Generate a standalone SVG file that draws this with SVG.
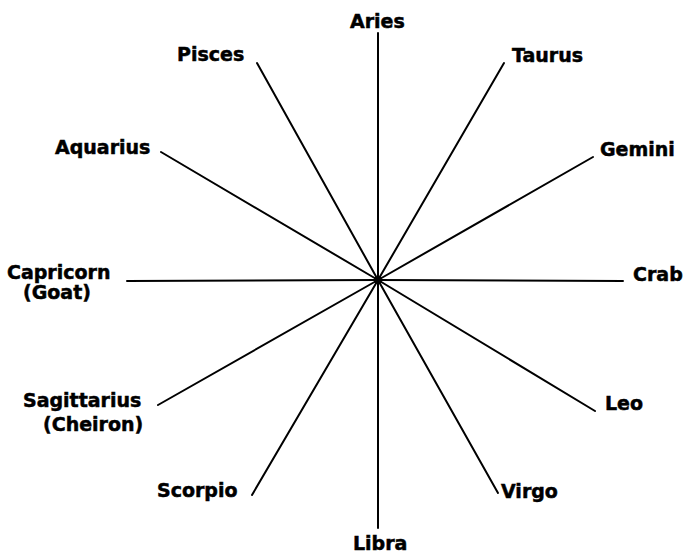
<svg xmlns="http://www.w3.org/2000/svg" width="688" height="553" viewBox="0 0 688 553">
<style>
.l{stroke:#000;stroke-width:2;stroke-linecap:round;fill:none}
text{font-family:"DejaVu Sans","Liberation Sans",sans-serif;font-weight:bold;font-size:19px;fill:#000;stroke:#000;stroke-width:0.5}
</style>
<rect width="688" height="553" fill="#fff"/>
<g id="connectors">
<line class="l" x1="378" y1="280" x2="378" y2="33"/>
<line class="l" x1="378" y1="280" x2="378" y2="528"/>
<line class="l" x1="378" y1="280" x2="623" y2="281"/>
<line class="l" x1="378" y1="280" x2="127" y2="281"/>
<line class="l" x1="378" y1="280" x2="257" y2="63"/>
<line class="l" x1="378" y1="280" x2="504" y2="63"/>
<line class="l" x1="378" y1="280" x2="161" y2="152"/>
<line class="l" x1="378" y1="280" x2="593" y2="157"/>
<line class="l" x1="378" y1="280" x2="595" y2="411"/>
<line class="l" x1="378" y1="280" x2="158" y2="405"/>
<line class="l" x1="378" y1="280" x2="252" y2="495"/>
<line class="l" x1="378" y1="280" x2="498" y2="493"/>
<circle cx="378" cy="280" r="4" fill="#000"/>
</g>
<g id="aries"><text x="350" y="28">Aries</text></g>
<g id="taurus"><text x="512" y="62">Taurus</text></g>
<g id="gemini"><text x="600" y="156">Gemini</text></g>
<g id="crab"><text x="633" y="281">Crab</text></g>
<g id="leo"><text x="605" y="410">Leo</text></g>
<g id="virgo"><text x="501" y="498">Virgo</text></g>
<g id="libra"><text x="353" y="550">Libra</text></g>
<g id="scorpio"><text x="157" y="497">Scorpio</text></g>
<g id="sagittarius"><text x="23" y="407">Sagittarius</text><text x="43" y="431">(Cheiron)</text></g>
<g id="capricorn"><text x="7" y="279">Capricorn</text><text x="23" y="299">(Goat)</text></g>
<g id="aquarius"><text x="55" y="154">Aquarius</text></g>
<g id="pisces"><text x="177" y="61">Pisces</text></g>
</svg>
